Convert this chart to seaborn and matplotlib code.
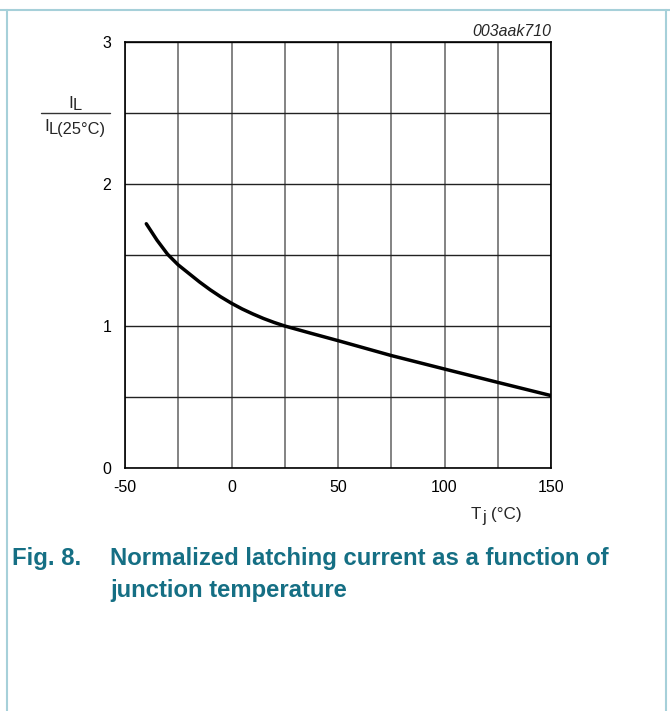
import matplotlib
matplotlib.use("Agg")
import matplotlib.pyplot as plt
from matplotlib.lines import Line2D
import seaborn as sns
import pandas as pd

# data
tj = [-40, -35, -30, -25, -20, -15, -10, -5, 0, 5, 10, 15, 20, 25, 37.5, 50, 75, 100, 125, 150]
il_norm = [1.72, 1.605, 1.505, 1.43, 1.37, 1.31, 1.255, 1.205, 1.16, 1.12, 1.085, 1.053, 1.025, 1.00,
           0.948, 0.897, 0.792, 0.697, 0.603, 0.51]
x_ticks = [-50, 0, 50, 100, 150]
y_ticks = [0, 1, 2, 3]

sns.set_style("white")
plt.rcParams['font.family'] = ['Liberation Sans', 'DejaVu Sans']
plt.rcParams['axes.unicode_minus'] = False

W, H = 670, 711
fig = plt.figure(figsize=(W / 100, H / 100), dpi=100)
ax = fig.add_axes([125 / W, (H - 468) / H, 426 / W, 426 / H])

df = pd.DataFrame({"Tj": tj, "IL": il_norm})
sns.lineplot(data=df, x="Tj", y="IL", ax=ax, color="black", linewidth=2.5, sort=True)

ax.set_xlim(-50, 150)
ax.set_ylim(0, 3)
ax.set_xticks(x_ticks)
ax.set_yticks(y_ticks)
ax.set_xticks(range(-50, 151, 25), minor=True)
ax.set_yticks([v / 2 for v in range(0, 7)], minor=True)
ax.grid(which="both", axis="x", color="#6e6e6e", linewidth=1.2)
ax.grid(which="both", axis="y", color="#222222", linewidth=1.0)
ax.tick_params(which="both", length=0, labelsize=11.5, colors="black")
ax.tick_params(axis="x", pad=8.8)
ax.tick_params(axis="y", pad=9.8)
for s in ax.spines.values():
    s.set_color("black")
    s.set_linewidth(1.2)
ax.set_xlabel("")
ax.set_ylabel("")


def px(x, y):
    return x / W, 1 - y / H


# x axis label  T_j (°C)
fig.text(*px(471, 519), "T", ha="left", va="baseline", fontsize=12.3)
fig.text(*px(482, 522), "j", ha="left", va="baseline", fontsize=11.8)
fig.text(*px(491.5, 519), "(°C)", ha="left", va="baseline", fontsize=12.3)

# y axis label  I_L / I_L(25°C)
fig.text(*px(68.5, 107.5), "I", ha="left", va="baseline", fontsize=12.3)
fig.text(*px(72.5, 110.5), "L", ha="left", va="baseline", fontsize=11.8)
fig.add_artist(Line2D([41 / W, 110 / W], [1 - 112.5 / H, 1 - 112.5 / H], color="#333333", linewidth=1.0))
fig.text(*px(44.5, 131), "I", ha="left", va="baseline", fontsize=12.3)
fig.text(*px(49, 134), "L(25°C)", ha="left", va="baseline", fontsize=11.8)

fig.text(*px(551, 31), "003aak710", ha="right", va="center", fontsize=11.4, style="italic")

# caption
teal = "#156f84"
fs = 17.2
fig.text(*px(12, 559), "Fig. 8.", ha="left", va="center", fontsize=fs, fontweight="bold", color=teal)
fig.text(*px(110, 559), "Normalized latching current as a function of", ha="left", va="center",
         fontsize=fs, fontweight="bold", color=teal)
fig.text(*px(110, 590), "junction temperature", ha="left", va="center",
         fontsize=fs, fontweight="bold", color=teal)

# page border
bc = "#a6d0d9"
fig.add_artist(Line2D([0, 1], [1 - 10 / H, 1 - 10 / H], color=bc, linewidth=1.5))
fig.add_artist(Line2D([7 / W, 7 / W], [0, 1 - 10 / H], color=bc, linewidth=1.5))
fig.add_artist(Line2D([666 / W, 666 / W], [0, 1 - 10 / H], color=bc, linewidth=1.5))

fig.savefig("out.png", dpi=100)
